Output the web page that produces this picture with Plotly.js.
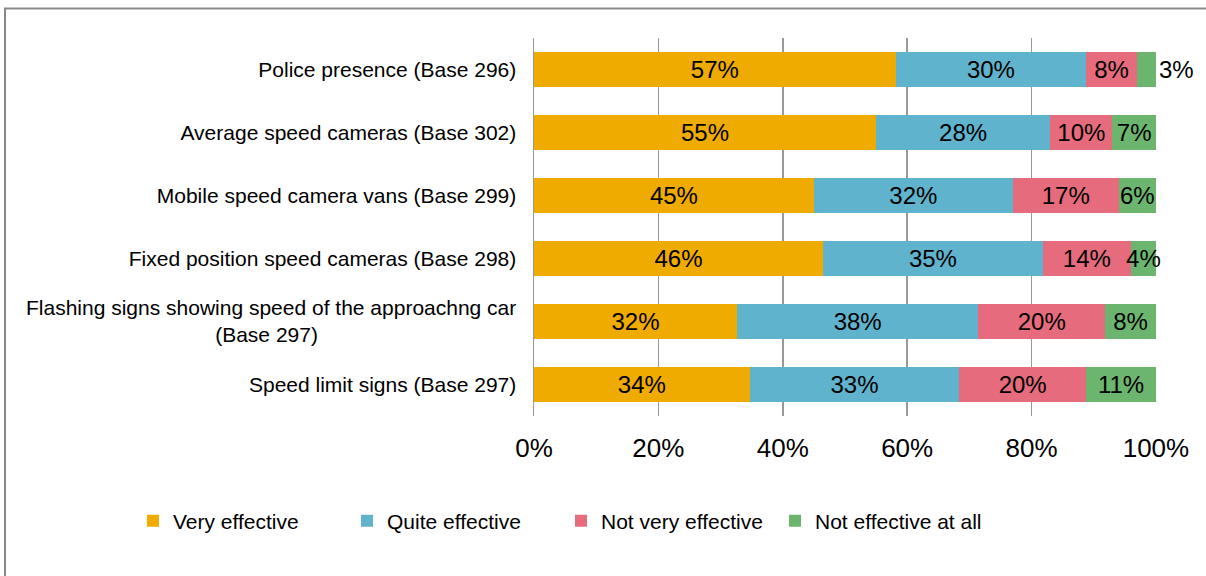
<!DOCTYPE html>
<html>
<head>
<meta charset="utf-8">
<script src="https://cdn.plot.ly/plotly-3.0.1.min.js"></script>
<style>html,body{margin:0;padding:0;background:#fff;}#chart{width:1206px;height:576px;}</style>
</head>
<body>
<div id="chart"></div>
<script>
const categories = [
  "Police presence (Base 296)",
  "Average speed cameras (Base 302)",
  "Mobile speed camera vans (Base 299)",
  "Fixed position speed cameras (Base 298)",
  "Flashing signs showing speed of the approachng car<br>(Base 297)" + "\u00a0".repeat(34),
  "Speed limit signs (Base 297)"
];
const seriesNames = ["Very effective", "Quite effective", "Not very effective", "Not effective at all"];
const veryEffective = [57, 55, 45, 46, 32, 34];
const quiteEffective = [30, 28, 32, 35, 38, 33];
const notVeryEffective = [8, 10, 17, 14, 20, 20];
const notEffectiveAtAll = [3, 7, 6, 4, 8, 11];
const seriesColors = ["#F0AB00", "#5FB3CC", "#E56B7D", "#6BB56E"];
const xTickVals = [0, 20, 40, 60, 80, 100];

const seriesValues = [veryEffective, quiteEffective, notVeryEffective, notEffectiveAtAll];
const font = "Liberation Sans, Arial, sans-serif";
const lastIdx = seriesValues.length - 1;

const traces = seriesValues.map((vals, i) => ({
  type: "bar",
  orientation: "h",
  name: seriesNames[i],
  y: categories,
  x: vals,
  text: vals.map(v => v + "%"),
  // the smallest label in the last segment, squeezed next to its neighbour, sits just past the bar end
  textposition: vals.map((v, j) => (i === lastIdx && j === 0) ? "outside" : "inside"),
  insidetextanchor: "middle",
  constraintext: "none",
  textangle: 0,
  textfont: {family: font, size: 24, color: "#000"},
  outsidetextfont: {family: font, size: 24, color: "#000"},
  marker: {color: seriesColors[i], line: {width: 0}},
  cliponaxis: false,
  hoverinfo: "x+y+name"
}));

const layout = {
  width: 1206,
  height: 576,
  margin: {l: 534, r: 50, t: 38, b: 160, pad: 0},
  barmode: "stack",
  barnorm: "percent",
  bargap: 0.444,
  paper_bgcolor: "#fff",
  plot_bgcolor: "#fff",
  font: {family: font, color: "#000"},
  xaxis: {
    range: [0, 100.01],
    tickvals: xTickVals,
    ticktext: xTickVals.map(v => v + "%"),
    showgrid: true,
    gridcolor: "#999",
    gridwidth: 1.5,
    zeroline: false,
    showline: false,
    ticks: "outside",
    ticklen: 9,
    tickcolor: "rgba(0,0,0,0)",
    tickfont: {family: font, size: 26, color: "#000"},
    fixedrange: true
  },
  yaxis: {
    autorange: "reversed",
    showline: true,
    linecolor: "#999",
    linewidth: 1.5,
    showgrid: false,
    ticks: "outside",
    ticklen: 12,
    tickcolor: "rgba(0,0,0,0)",
    tickfont: {family: font, size: 21, color: "#000"},
    fixedrange: true
  },
  showlegend: true,
  legend: {
    orientation: "h",
    x: (133 - 534) / 622,
    xanchor: "left",
    y: (416 - 521) / 378,
    yanchor: "middle",
    font: {family: font, size: 21, color: "#000"},
    traceorder: "normal",
    entrywidthmode: "pixels",
    entrywidth: 169,
    bgcolor: "rgba(0,0,0,0)"
  },
  shapes: [{
    type: "rect",
    xref: "paper", yref: "paper",
    x0: (5 - 534) / 622, x1: (1215 - 534) / 622,
    y0: (416 - 585) / 378, y1: (416 - 8.5) / 378,
    line: {color: "#888", width: 2},
    fillcolor: "rgba(0,0,0,0)",
    layer: "below"
  }]
};

Plotly.newPlot("chart", traces, layout, {displayModeBar: false, staticPlot: true});
</script>
</body>
</html>
